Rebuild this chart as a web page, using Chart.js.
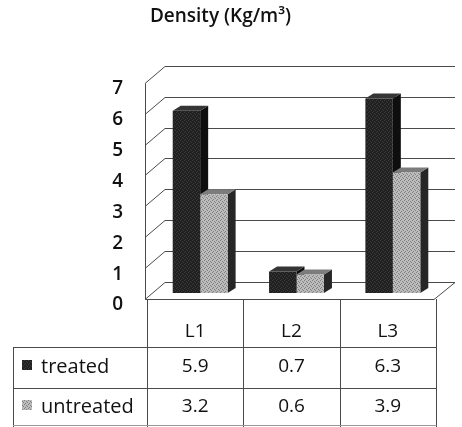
<!DOCTYPE html>
<html>
<head>
<meta charset="utf-8">
<script src="https://cdn.jsdelivr.net/npm/chart.js@4/dist/chart.umd.min.js"></script>
<style>
  html, body { margin: 0; padding: 0; background: #fff; }
</style>
</head>
<body>
<canvas id="chart" width="462" height="427"></canvas>
<script>
// data
const categories = ['L1', 'L2', 'L3'];
const seriesNames = ['treated', 'untreated'];
const treated = [5.9, 0.7, 6.3];
const untreated = [3.2, 0.6, 3.9];
const yTicks = [0, 1, 2, 3, 4, 5, 6, 7];

const FONT = '"Open Sans", Lato, sans-serif';
const INK = '#111';
const LINE = '#4a4a4a';

// 3d offsets (px) for the walls and the bar extrusion
const FRONT = { dx: -7, dy: 6 };
const BACK = { dx: 13, dy: -11 };
const DEPTH = { dx: 8, dy: -5 };

const canvas = document.getElementById('chart');
const ctx = canvas.getContext('2d');

// little dotted tiles so the bars look like the printed ones
function makePattern(base, dots) {
    const p = document.createElement('canvas');
    p.width = 4; p.height = 4;
    const g = p.getContext('2d');
    g.fillStyle = base;
    g.fillRect(0, 0, 4, 4);
    g.fillStyle = dots;
    g.fillRect(0, 0, 1, 1);
    g.fillRect(2, 1, 1, 1);
    g.fillRect(1, 3, 1, 1);
    g.fillRect(3, 2, 1, 1);
    return ctx.createPattern(p, 'repeat');
}

const fills = [makePattern('#202020', '#3a3a3a'), makePattern('#bcbcbc', '#808080')];
const sides = ['#0e0e0e', '#262626'];
const tops = ['#353535', '#7c7c7c'];

// walls, floor and the side/top faces of the bars
const walls3d = {
    id: 'walls3d',
    beforeDatasetsDraw(chart) {
        const { ctx, chartArea: a, scales: { x, y } } = chart;
        const fx = a.left + FRONT.dx;
        const bx = a.left + BACK.dx;
        const br = a.right + BACK.dx + 1;
        ctx.save();
        ctx.strokeStyle = LINE;
        ctx.lineWidth = 1;

        // back wall gridlines + left wall diagonals
        yTicks.forEach(v => {
            const py = Math.round(y.getPixelForValue(v)) + 0.5;
            ctx.beginPath();
            ctx.moveTo(fx, py + FRONT.dy);
            ctx.lineTo(bx, py + BACK.dy);
            ctx.lineTo(br, py + BACK.dy);
            ctx.stroke();
        });
        // front edge of left wall
        const y0 = Math.round(y.getPixelForValue(0)) + 0.5;
        const y7 = Math.round(y.getPixelForValue(yTicks[yTicks.length - 1])) + 0.5;
        ctx.beginPath();
        ctx.moveTo(fx + 0.5, y7 + FRONT.dy);
        ctx.lineTo(fx + 0.5, y0 + FRONT.dy);
        // floor front edge and right edge
        ctx.lineTo(a.right + FRONT.dx, y0 + FRONT.dy);
        ctx.lineTo(br, y0 + BACK.dy);
        ctx.stroke();

        // extrusions, treated first so untreated tops sit over it
        [0, 1].forEach(di => {
            chart.getDatasetMeta(di).data.forEach(bar => {
                const l = bar.x - bar.width / 2;
                const r = bar.x + bar.width / 2;
                ctx.fillStyle = sides[di];
                ctx.beginPath();
                ctx.moveTo(r, bar.y);
                ctx.lineTo(r + DEPTH.dx, bar.y + DEPTH.dy);
                ctx.lineTo(r + DEPTH.dx, bar.base + DEPTH.dy);
                ctx.lineTo(r, bar.base);
                ctx.closePath();
                ctx.fill();
                ctx.fillStyle = tops[di];
                ctx.beginPath();
                ctx.moveTo(l, bar.y);
                ctx.lineTo(l + DEPTH.dx, bar.y + DEPTH.dy);
                ctx.lineTo(r + DEPTH.dx, bar.y + DEPTH.dy);
                ctx.lineTo(r, bar.y);
                ctx.closePath();
                ctx.fill();
            });
        });
        ctx.restore();
    }
};

// data table under the plot
const TABLE_DX = -5;
const TABLE_LEFT = 13;
const ROW_LINES = [347, 388, 425];
const ROW_TEXT = [332, 367, 407];

const dataTable = {
    id: 'dataTable',
    afterDraw(chart) {
        const { ctx, chartArea: a, scales: { x, y } } = chart;
        const w = (a.right - a.left) / categories.length;
        const cols = [];
        for (let i = 0; i <= categories.length; i++) cols.push(Math.round(a.left + i * w + TABLE_DX) + 0.5);
        const top = Math.round(y.getPixelForValue(0)) + FRONT.dy;
        ctx.save();
        ctx.strokeStyle = LINE;
        ctx.lineWidth = 1;
        cols.forEach(cx => {
            ctx.beginPath();
            ctx.moveTo(cx, top);
            ctx.lineTo(cx, 427);
            ctx.stroke();
        });
        ctx.beginPath();
        ctx.moveTo(TABLE_LEFT + 0.5, ROW_LINES[0]);
        ctx.lineTo(TABLE_LEFT + 0.5, 427);
        ctx.stroke();
        ROW_LINES.forEach((ry, i) => {
            ctx.strokeStyle = i === 2 ? '#9a9a9a' : LINE;
            ctx.beginPath();
            ctx.moveTo(TABLE_LEFT, ry + 0.5);
            ctx.lineTo(cols[cols.length - 1], ry + 0.5);
            ctx.stroke();
        });

        ctx.fillStyle = INK;
        ctx.textAlign = 'center';
        ctx.textBaseline = 'middle';
        ctx.font = '19px ' + FONT;
        categories.forEach((c, i) => {
            const cx = x.getPixelForValue(i) + TABLE_DX;
            ctx.fillText(c, cx, ROW_TEXT[0]);
            ctx.fillText(String(treated[i]), cx, ROW_TEXT[1]);
            ctx.fillText(String(untreated[i]), cx, ROW_TEXT[2]);
        });

        // row headers with their legend keys
        ctx.textAlign = 'left';
        ctx.font = '20px ' + FONT;
        seriesNames.forEach((name, i) => {
            const ry = ROW_TEXT[i + 1];
            ctx.fillStyle = fills[i];
            ctx.fillRect(22, ry - 7, 10, 10);
            ctx.fillStyle = INK;
            ctx.fillText(name, 41, ry);
        });
        ctx.restore();
    }
};

new Chart(canvas, {
    type: 'bar',
    data: {
        labels: categories,
        datasets: [
            { label: seriesNames[0], data: treated, backgroundColor: fills[0] },
            { label: seriesNames[1], data: untreated, backgroundColor: fills[1] }
        ]
    },
    options: {
        responsive: false,
        animation: false,
        events: [],
        categoryPercentage: 0.57,
        barPercentage: 1.0,
        borderWidth: 0,
        layout: { padding: { left: 0, right: 21, top: 0, bottom: 134 } },
        plugins: {
            legend: { display: false },
            tooltip: { enabled: false },
            title: {
                display: true,
                text: 'Density (Kg/m³)',
                color: INK,
                font: { family: FONT, size: 19, weight: '600' },
                padding: { top: 5, bottom: 49 }
            }
        },
        scales: {
            x: { display: false },
            y: {
                min: 0,
                max: 7,
                afterFit: s => { s.width = 152; },
                grid: { display: false, drawTicks: false },
                border: { display: false },
                ticks: {
                    stepSize: 1,
                    padding: 29,
                    labelOffset: 12,
                    color: INK,
                    font: { family: FONT, size: 19, weight: '600' }
                }
            }
        }
    },
    plugins: [walls3d, dataTable]
});
</script>
</body>
</html>
